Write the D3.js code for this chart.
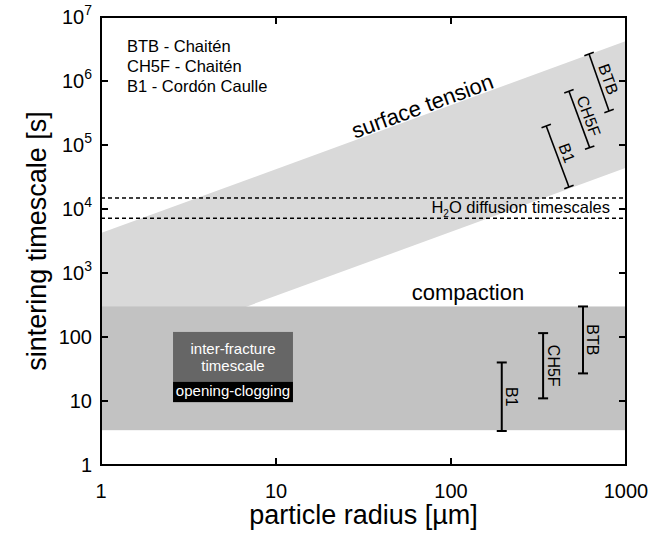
<!DOCTYPE html>
<html>
<head>
<meta charset="utf-8">
<script src="https://cdn.jsdelivr.net/npm/d3@7"></script>
<style>
  body { margin: 0; background: #fff; }
  svg { font-family: "Liberation Sans", Arial, sans-serif; }
</style>
</head>
<body>
<svg id="chart" width="652" height="535"></svg>
<script>
// ---- data ----
const xTicks = [1, 10, 100, 1000];
const yTicks = [1, 10, 100, 1e3, 1e4, 1e5, 1e6, 1e7];
const yTickLabels = ['1', '10', '100', '10|3', '10|4', '10|5', '10|6', '10|7'];

// surface tension band: t = coef * r
const surfaceRadius = [1, 1000];
const surfaceLowCoef = 44;
const surfaceHighCoef = 4200;

// compaction band
const compactionRange = [3.5, 300];

// H2O diffusion timescales
const diffusionTimes = [7200, 14800];

// error bars, surface tension (tilted): [r top, t top], [r bottom, t bottom]
const tensionNames = ['B1', 'CH5F', 'BTB'];
const tensionTop = [[350, 198000], [472, 690000], [615, 2.64e6]];
const tensionBottom = [[472, 22000], [620, 91000], [800, 340000]];

// error bars, compaction (vertical)
const compactionNames = ['B1', 'CH5F', 'BTB'];
const compactionRadius = [195, 336, 568];
const compactionLow = [3.4, 11, 27];
const compactionHigh = [40, 115, 300];

const legendLines = ['BTB - Chaitén', 'CH5F - Chaitén', 'B1 - Cordón Caulle'];

// ---- layout ----
const W = 652, H = 535;
const margin = {top: 17, right: 26, bottom: 70, left: 101};
const w = W - margin.left - margin.right;
const h = H - margin.top - margin.bottom;

const svg = d3.select('#chart');
const g = svg.append('g').attr('transform', `translate(${margin.left},${margin.top})`);

const x = d3.scaleLog().domain([1, 1000]).range([0, w]);
const y = d3.scaleLog().domain([1, 1e7]).range([h, 0]);

svg.append('defs').append('clipPath').attr('id', 'plot')
  .append('rect').attr('width', w).attr('height', h);

const plot = g.append('g').attr('clip-path', 'url(#plot)');

// surface tension band
const area = d3.area()
  .x(d => x(d))
  .y0(d => y(d * surfaceLowCoef))
  .y1(d => y(d * surfaceHighCoef));
plot.append('path').datum(surfaceRadius).attr('d', area).attr('fill', '#d9d9d9');

// compaction band
plot.append('rect')
  .attr('x', 0).attr('width', w)
  .attr('y', y(compactionRange[1]))
  .attr('height', y(compactionRange[0]) - y(compactionRange[1]))
  .attr('fill', '#c2c2c2');

// diffusion dashed lines
plot.selectAll('.diff').data(diffusionTimes).join('line')
  .attr('x1', 0).attr('x2', w)
  .attr('y1', d => y(d)).attr('y2', d => y(d))
  .attr('stroke', '#000').attr('stroke-width', 1.5).attr('stroke-dasharray', '4,3');

const diffLabel = g.append('text')
  .attr('x', w - 16)
  .attr('y', (y(diffusionTimes[0]) + y(diffusionTimes[1])) / 2 + 5)
  .attr('text-anchor', 'end').attr('font-size', 16.5);
diffLabel.append('tspan').text('H');
diffLabel.append('tspan').attr('font-size', 10).attr('dy', 4).text('2');
diffLabel.append('tspan').attr('dy', -4).text('O diffusion timescales');

// tilted bars
tensionNames.forEach((name, i) => {
  const x1 = x(tensionTop[i][0]), y1 = y(tensionTop[i][1]);
  const x2 = x(tensionBottom[i][0]), y2 = y(tensionBottom[i][1]);
  const len = Math.hypot(x2 - x1, y2 - y1);
  const ux = (x2 - x1) / len, uy = (y2 - y1) / len;
  const nx = uy, ny = -ux; // normal to the right
  const cap = 5;
  g.append('line').attr('x1', x1).attr('y1', y1).attr('x2', x2).attr('y2', y2)
    .attr('stroke', '#000').attr('stroke-width', 1.6);
  [[x1, y1], [x2, y2]].forEach(p => {
    g.append('line')
      .attr('x1', p[0] - nx * cap).attr('y1', p[1] - ny * cap)
      .attr('x2', p[0] + nx * cap).attr('y2', p[1] + ny * cap)
      .attr('stroke', '#000').attr('stroke-width', 1.6);
  });
  const cx = (x1 + x2) / 2 + nx * 10, cy = (y1 + y2) / 2 + ny * 10;
  const ang = Math.atan2(uy, ux) * 180 / Math.PI;
  g.append('text')
    .attr('transform', `translate(${cx},${cy}) rotate(${ang})`)
    .attr('text-anchor', 'middle').attr('dy', '0.35em')
    .attr('font-size', 16).text(name);
});

// vertical compaction bars
compactionNames.forEach((name, i) => {
  const bx = x(compactionRadius[i]);
  const yTop = y(compactionHigh[i]), yBot = y(compactionLow[i]);
  g.append('line').attr('x1', bx).attr('x2', bx).attr('y1', yTop).attr('y2', yBot)
    .attr('stroke', '#000').attr('stroke-width', 2);
  [yTop, yBot].forEach(v => {
    g.append('line').attr('x1', bx - 5).attr('x2', bx + 5).attr('y1', v).attr('y2', v)
      .attr('stroke', '#000').attr('stroke-width', 2);
  });
  g.append('text')
    .attr('transform', `translate(${bx + 10},${(yTop + yBot) / 2}) rotate(90)`)
    .attr('text-anchor', 'middle').attr('dy', '0.35em')
    .attr('font-size', 16).text(name);
});

// region labels
g.append('text')
  .attr('transform', `translate(${x(71)},${y(3.5e5) + 3}) rotate(-20.1)`)
  .attr('text-anchor', 'middle').attr('font-size', 22).text('surface tension');

g.append('text')
  .attr('x', x(125)).attr('y', y(compactionRange[1]) - 6)
  .attr('text-anchor', 'middle').attr('font-size', 22).text('compaction');

// inter-fracture box
const boxX0 = x(2.58), boxX1 = x(12.5);
const boxTop = y(120), boxMid = y(20), boxBot = y(9.6);
g.append('rect').attr('x', boxX0).attr('y', boxTop).attr('width', boxX1 - boxX0)
  .attr('height', boxMid - boxTop).attr('fill', '#666');
g.append('rect').attr('x', boxX0).attr('y', boxMid).attr('width', boxX1 - boxX0)
  .attr('height', boxBot - boxMid).attr('fill', '#000');
const bc = (boxX0 + boxX1) / 2;
g.append('text').attr('x', bc).attr('y', boxTop + 22).attr('text-anchor', 'middle')
  .attr('fill', '#fff').attr('font-size', 15).text('inter-fracture');
g.append('text').attr('x', bc).attr('y', boxTop + 39).attr('text-anchor', 'middle')
  .attr('fill', '#fff').attr('font-size', 15).text('timescale');
g.append('text').attr('x', bc).attr('y', boxMid + 14).attr('text-anchor', 'middle')
  .attr('fill', '#fff').attr('font-size', 15).text('opening-clogging');

// legend
g.selectAll('.legend').data(legendLines).join('text')
  .attr('x', 26).attr('y', (d, i) => 35 + i * 20)
  .attr('font-size', 16.5).text(d => d);

// axes (inward ticks, all sides)
const tickLen = 7;
const axisG = g.append('g');
xTicks.forEach(t => {
  axisG.append('line').attr('x1', x(t)).attr('x2', x(t)).attr('y1', h).attr('y2', h - tickLen)
    .attr('stroke', '#000').attr('stroke-width', 2);
  axisG.append('line').attr('x1', x(t)).attr('x2', x(t)).attr('y1', 0).attr('y2', tickLen)
    .attr('stroke', '#000').attr('stroke-width', 2);
  axisG.append('text').attr('x', x(t)).attr('y', h + 33).attr('text-anchor', 'middle')
    .attr('font-size', 20).text(t);
});
yTicks.forEach((t, i) => {
  axisG.append('line').attr('x1', 0).attr('x2', tickLen).attr('y1', y(t)).attr('y2', y(t))
    .attr('stroke', '#000').attr('stroke-width', 2);
  axisG.append('line').attr('x1', w).attr('x2', w - tickLen).attr('y1', y(t)).attr('y2', y(t))
    .attr('stroke', '#000').attr('stroke-width', 2);
  const parts = yTickLabels[i].split('|');
  const txt = axisG.append('text').attr('x', -9).attr('y', y(t) + 7)
    .attr('text-anchor', 'end').attr('font-size', 20);
  txt.append('tspan').text(parts[0]);
  if (parts[1]) txt.append('tspan').attr('font-size', 14).attr('dy', -9).text(parts[1]);
});

g.append('rect').attr('width', w).attr('height', h)
  .attr('fill', 'none').attr('stroke', '#000').attr('stroke-width', 2);

// axis titles
svg.append('text')
  .attr('x', margin.left + w / 2).attr('y', 524)
  .attr('text-anchor', 'middle').attr('font-size', 27).text('particle radius [µm]');
svg.append('text')
  .attr('transform', `translate(46,${margin.top + h / 2}) rotate(-90)`)
  .attr('text-anchor', 'middle').attr('font-size', 27).text('sintering timescale [s]');
</script>
</body>
</html>
